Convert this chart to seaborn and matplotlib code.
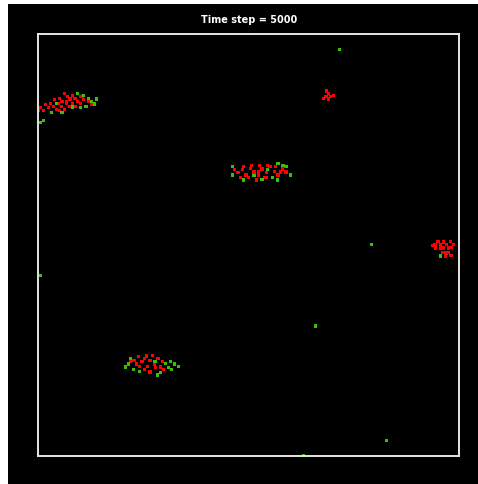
import seaborn as sns
import matplotlib.pyplot as plt
import matplotlib.patches as mpatches
import pandas as pd

# agent positions, on a 0..100 domain in x and y
red_x = [6.4, 8.1, 7.1, 5.2, 8.8, 10.0, 4.0, 5.7, 7.6, 9.3, 10.9, 2.9, 4.8, 6.7, 8.3, 10.0, 11.9, 1.7, 3.6, 5.5, 7.4, 9.0, 12.8, 0.5, 2.4, 4.3, 6.2, 8.1, 0.0, 1.4, 3.3, 5.2, 6.7, 7.6, 10.5,
         47.5, 48.5, 49.4, 50.4, 51.3, 52.3, 53.2, 54.2, 55.1, 56.1, 57.0, 58.0, 58.9, 49.9, 51.8, 53.7, 55.6, 48.9, 52.7, 54.6, 56.5, 50.8, 48.0, 57.5, 58.4, 46.6, 52.3, 54.2,
         22.8, 23.8, 24.7, 25.7, 26.6, 27.6, 28.5, 29.5, 24.2, 26.1, 28.0, 23.3, 25.2, 27.1, 29.0, 29.9, 21.9, 25.4, 26.6,
         94.3, 95.0, 95.7, 96.4, 97.1, 97.9, 98.6, 94.5, 95.5, 96.4, 97.4, 98.3, 96.2, 97.1, 96.7, 93.8, 97.6, 98.1,
         68.6, 69.1, 68.4, 67.9, 69.4, 70.1, 68.9]
red_y = [85.8, 85.5, 85.1, 84.8, 84.8, 85.1, 84.4, 84.1, 84.4, 84.1, 84.4, 83.6, 83.6, 83.6, 83.4, 83.6, 83.9, 83.2, 82.9, 82.9, 82.9, 82.9, 83.4, 82.5, 82.5, 82.2, 82.2, 82.5, 82.0, 81.8, 81.5, 81.8, 83.9, 84.8, 85.3,
         67.1, 67.8, 66.6, 68.2, 67.3, 66.4, 68.0, 67.1, 68.5, 67.5, 66.6, 68.0, 67.3, 65.9, 65.4, 65.9, 66.1, 68.7, 68.9, 68.9, 68.5, 68.9, 66.1, 67.3, 68.7, 67.8, 67.3, 66.1,
         22.7, 23.5, 22.3, 23.7, 22.7, 21.8, 23.2, 22.3, 21.3, 21.3, 20.9, 21.8, 23.0, 23.9, 21.1, 20.4, 22.3, 20.4, 19.9,
         50.2, 50.9, 50.0, 50.7, 50.2, 50.9, 50.2, 49.3, 49.1, 49.3, 49.3, 49.5, 48.3, 48.1, 47.4, 49.8, 48.3, 47.6,
         86.5, 85.8, 85.1, 84.8, 85.1, 85.5, 84.6]

green_x = [9.3, 10.9, 11.9, 12.8, 13.5, 8.3, 10.0, 5.7, 11.4, 4.3, 1.4, 0.5, 3.3, 14.0,
           46.3, 46.1, 51.3, 54.6, 55.8, 57.0, 58.2, 59.1, 59.9, 56.8, 53.2, 48.9,
           20.7, 21.9, 22.6, 24.2, 27.8, 29.0, 30.2, 31.4, 32.5, 33.3, 30.9, 28.3, 31.8, 21.4,
           95.5,
           71.7, 79.3, 66.0, 82.7, 63.0, 0.5]
green_y = [85.8, 85.5, 84.8, 84.1, 83.4, 82.7, 82.5, 81.5, 82.9, 83.6, 79.6, 79.1, 81.3, 84.6,
           68.5, 66.6, 66.4, 67.8, 65.9, 69.4, 68.9, 68.5, 66.6, 65.4, 65.6, 65.4,
           21.1, 23.2, 20.6, 20.1, 22.3, 19.7, 22.0, 22.3, 21.8, 21.3, 20.9, 19.2, 20.4, 21.8,
           47.4,
           96.4, 50.2, 30.8, 3.6, 0.2, 42.7]

title = "Time step = 5000"

df = pd.DataFrame({
    "x": red_x + green_x,
    "y": red_y + green_y,
    "kind": ["red"] * len(red_x) + ["green"] * len(green_x),
})

fig = plt.figure(figsize=(4.78, 4.85), dpi=100, facecolor="white")
# black panel, leaving a thin white strip on the left and top
fig.patches.append(mpatches.Rectangle((8 / 478, 0), 470 / 478, 480 / 485,
                                      transform=fig.transFigure, facecolor="black",
                                      edgecolor="none", zorder=-5))

ax = fig.add_axes([38 / 478, 28 / 485, 421 / 478, 422 / 485])
ax.set_zorder(2)
ax.set_facecolor("black")
sns.scatterplot(data=df, x="x", y="y", hue="kind",
                palette={"red": "#ff0000", "green": "#3cbf0a"},
                marker="s", s=5, linewidth=0, legend=False, ax=ax)
ax.set_xlim(0, 100)
ax.set_ylim(0, 100)
ax.set_xticks([])
ax.set_yticks([])
ax.set_xlabel("")
ax.set_ylabel("")
for sp in ax.spines.values():
    sp.set_color("#e6e6e6")
    sp.set_linewidth(1.4)
fig.text(249 / 478, 1 - 20 / 485, title, color="white", fontsize=7,
         fontweight="bold", ha="center", va="center")

fig.savefig("out.png", dpi=100, facecolor=fig.get_facecolor())
